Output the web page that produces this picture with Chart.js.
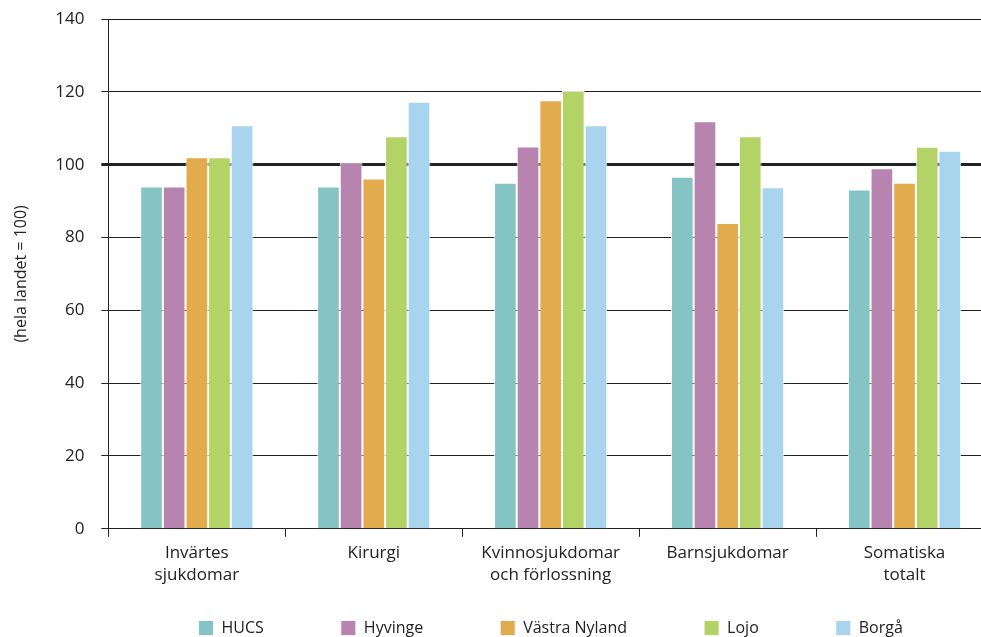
<!DOCTYPE html>
<html><head><meta charset="utf-8">
<script src="https://cdn.jsdelivr.net/npm/chart.js@4/dist/chart.umd.min.js"></script>
<style>html,body{margin:0;padding:0;background:#fff;overflow:hidden;width:981px;height:637px}#wrap{width:1000px;height:637px}</style>
</head><body><div id="wrap"><canvas id="c" width="1000" height="637"></canvas></div>
<script>
const categories = [["Invärtes","sjukdomar"],"Kirurgi",["Kvinnosjukdomar","och förlossning"],"Barnsjukdomar",["Somatiska","totalt"]];
const seriesNames = ["HUCS","Hyvinge","Västra Nyland","Lojo","Borgå"];
const HUCS = [94, 94, 95, 96.7, 93.2];
const Hyvinge = [94, 100.5, 105, 111.9, 99];
const VastraNyland = [102, 96.2, 117.7, 84, 95];
const Lojo = [102, 107.8, 120.2, 107.8, 104.9];
const Borga = [110.8, 117.3, 110.8, 93.8, 103.8];
const yTicks = [0,20,40,60,80,100,120,140];
const colors = ["#84c4c5","#b784b0","#e2ac4e","#b4d366","#a9d4ee"];
const values = [HUCS, Hyvinge, VastraNyland, Lojo, Borga];
const FONT = "'Open Sans', sans-serif";
Chart.defaults.font.family = FONT;
Chart.defaults.color = "#222";
const LEGEND_H = 46, LEGEND_PAD = 77, LEGEND_ROW_Y = 620;
const legendFit = {
  id: 'legendFit',
  beforeInit(chart) {
    const lg = chart.legend;
    const orig = lg.fit;
    lg.fit = function() { orig.call(this); this.height = LEGEND_H; };
  },
  afterLayout(chart) {
    const lg = chart.legend;
    lg.top = LEGEND_ROW_Y - LEGEND_PAD;
    lg.bottom = chart.height;
    lg.height = lg.bottom - lg.top;
    if (lg.adjustHitBoxes) lg.adjustHitBoxes();
  }
};
new Chart(document.getElementById('c'), {
  type: 'bar',
  data: {
    labels: categories,
    datasets: values.map((v,i)=>({label: seriesNames[i], data: v, backgroundColor: colors[i], borderColor: 'rgba(255,255,255,0.85)', borderWidth: 1, categoryPercentage: 0.64, barPercentage: 1}))
  },
  plugins: [legendFit],
  options: {
    responsive: false, animation: false,
    layout: {padding: {top: 19, right: 7, left: 12, bottom: 0}},
    plugins: {
      legend: {position: 'bottom', fullSize: false, labels: {boxWidth: 15, boxHeight: 15, padding: LEGEND_PAD, font: {size: 16}, color: '#222'}},
      tooltip: {enabled: false}
    },
    scales: {
      x: {
        grid: {offset: true, drawOnChartArea: false, drawTicks: true, tickLength: 8, color: '#222'},
        border: {color: '#222', width: 1},
        ticks: {font: {size: 17, lineHeight: 1.3}, color: '#222', padding: 5, maxRotation: 0}
      },
      y: {
        min: 0, max: 140,
        afterBuildTicks: (s)=>{ s.ticks = yTicks.map(v=>({value:v})); },
        afterFit: (s)=>{ s.paddingTop = 0; },
        grid: {color: '#222', lineWidth: (c)=> c.tick && c.tick.value===100 ? 3 : 1, tickLength: 7},
        border: {color: '#222', width: 1},
        ticks: {font: {size: 17}, color: '#222', padding: 17},
        title: {display: true, text: '(hela landet = 100)', font: {size: 16}, color: '#222', padding: {top: 0, bottom: 7}}
      }
    }
  }
});
</script></body></html>
